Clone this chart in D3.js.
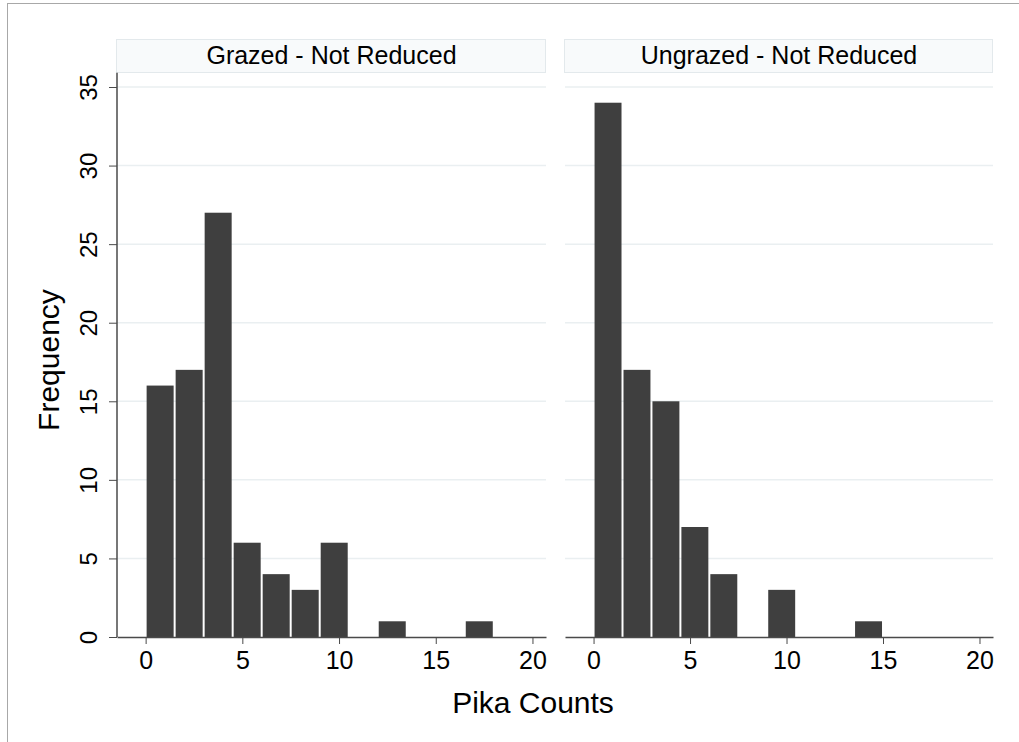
<!DOCTYPE html>
<html lang="en">
  <head>
    <meta charset="UTF-8" />
    <script src="https://d3js.org/d3.v7.min.js"></script>
    <title>Pika Counts</title>
    <style>
      body { margin: 0; background: #fff; }
      text { font-family: "Liberation Sans", Arial, sans-serif; fill: #000; }
    </style>
  </head>

  <body>
    <script>
      // histogram bins: start at 0, width 1.5
      const binWidth = 1.5;
      const panelNames = ["Grazed - Not Reduced", "Ungrazed - Not Reduced"];
      const grazedCounts = [16, 17, 27, 6, 4, 3, 6, 0, 1, 0, 0, 1];
      const ungrazedCounts = [34, 17, 15, 7, 4, 0, 3, 0, 0, 1];
      const xTicks = [0, 5, 10, 15, 20];
      const yTicks = [0, 5, 10, 15, 20, 25, 30, 35];

      const svg = d3.select("body")
        .append("svg")
        .attr("width", 1019)
        .attr("height", 742);

      // outer frame
      svg.append("rect")
        .attr("x", 7.5).attr("y", 3.5)
        .attr("width", 1030).attr("height", 760)
        .attr("fill", "none")
        .attr("stroke", "#a8a8a8");

      let scaleY = d3.scaleLinear().domain([0, 35]).range([637, 87]);

      const panels = [
        { name: panelNames[0], counts: grazedCounts, left: 117, right: 546 },
        { name: panelNames[1], counts: ungrazedCounts, left: 565, right: 993 },
      ];

      panels.forEach((p, pi) => {
        let scaleX = d3.scaleLinear()
          .domain([-1.48, 20.7])
          .range([p.left, p.right]);

        const g = svg.append("g");

        // strip title
        g.append("rect")
          .attr("x", p.left - 0.5).attr("y", 39.5)
          .attr("width", p.right - p.left).attr("height", 33)
          .attr("fill", "#f8fafb")
          .attr("stroke", "#e3e9ec");
        g.append("text")
          .attr("x", (p.left + p.right) / 2)
          .attr("y", 64)
          .attr("text-anchor", "middle")
          .style("font-size", "25px")
          .text(p.name);

        // grid
        g.selectAll("line.grid")
          .data(yTicks.filter((d) => d > 0))
          .join("line")
          .attr("class", "grid")
          .attr("x1", p.left).attr("x2", p.right)
          .attr("y1", (d) => scaleY(d)).attr("y2", (d) => scaleY(d))
          .attr("stroke", "#eaeff1")
          .attr("stroke-width", 1.5);

        // bars
        const bins = p.counts.map((c, i) => ({ x0: i * binWidth, x1: (i + 1) * binWidth, n: c }))
          .filter((d) => d.n > 0);
        g.selectAll("rect.bar")
          .data(bins)
          .join("rect")
          .attr("class", "bar")
          .attr("x", (d) => scaleX(d.x0) + 1)
          .attr("width", (d) => scaleX(d.x1) - scaleX(d.x0) - 2)
          .attr("y", (d) => scaleY(d.n))
          .attr("height", (d) => scaleY(0) - scaleY(d.n))
          .attr("fill", "#3f3f3f");

        // x axis
        const axisX = d3.axisBottom(scaleX)
          .tickValues(xTicks)
          .tickSize(7)
          .tickPadding(7)
          .tickSizeOuter(0);
        const gx = svg.append("g").attr("transform", "translate(0,637)");
        axisX(gx);
        gx.select(".domain").attr("stroke", "#4a4a4a").attr("stroke-width", 1.5);
        gx.selectAll(".tick line").attr("stroke", "#4a4a4a");
        gx.selectAll(".tick text")
          .style("font-size", "25px")
          .attr("font-family", null)
          .attr("fill", "#000");

        // y axis only on the first panel
        if (pi === 0) {
          let axisY = d3.axisLeft(scaleY)
            .tickValues(yTicks)
            .tickSize(8)
            .tickSizeOuter(0);
          const gy = svg.append("g").attr("transform", "translate(" + p.left + ",0)");
          axisY(gy);
          gy.select(".domain")
            .attr("d", "M0," + scaleY(35.9) + "V" + scaleY(0))
            .attr("stroke", "#4a4a4a").attr("stroke-width", 1.5);
          gy.selectAll(".tick line").attr("stroke", "#4a4a4a");
          gy.selectAll(".tick text")
            .style("font-size", "24px")
            .attr("font-family", null)
            .attr("fill", "#000")
            .attr("x", null).attr("dy", null)
            .attr("text-anchor", "middle")
            .attr("transform", "translate(-20,0) rotate(-90)");
        }
      });

      svg.append("text")
        .attr("x", 533).attr("y", 713)
        .attr("text-anchor", "middle")
        .style("font-size", "30px")
        .text("Pika Counts");

      svg.append("text")
        .attr("transform", "translate(59,360) rotate(-90)")
        .attr("text-anchor", "middle")
        .style("font-size", "30px")
        .text("Frequency");
    </script>
  </body>
</html>
